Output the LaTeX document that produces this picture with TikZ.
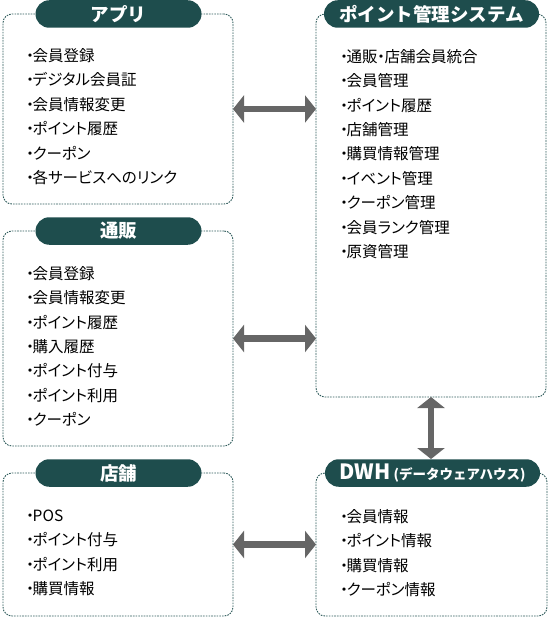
\documentclass[tikz,border=0pt]{standalone}
\usepackage{fontspec}
\newfontfamily\jp{Noto Sans CJK JP}
\newfontfamily\jpp[RawFeature={+palt}]{Noto Sans CJK JP}
\usetikzlibrary{arrows.meta}
\definecolor{pillcol}{HTML}{1E4D4D}
\definecolor{bordercol}{HTML}{2E5B5B}
\definecolor{arrowcol}{HTML}{666666}
\newcommand\bul{\makebox[5pt]{・}}
\newcommand\mdot{\makebox[7pt]{・}}
\tikzset{
  panel/.style={draw=bordercol, line width=0.9pt, dash pattern=on 1.6pt off 1.1pt,
    rounded corners=9pt, inner sep=0pt, outer sep=0pt, anchor=north west, fill=white},
  pill/.style={fill=pillcol, rounded corners=13.75pt, minimum height=27.5pt,
    inner sep=0pt, text=white, font=\jp\bfseries\fontsize{18.5}{18.5}\selectfont},
  item/.style={anchor=west, inner sep=0pt, text height=0.88em, text depth=0.12em,
    font=\jpp\fontsize{15.5}{15.5}\selectfont, text=black},
  biarrow/.style={draw=arrowcol, line width=6.5pt,
    {Triangle[width=27pt,length=11pt]}-{Triangle[width=27pt,length=11pt]}},
}
\begin{document}
\begin{tikzpicture}[x=1pt,y=-1pt]
\useasboundingbox (0,0) rectangle (550,620);
% panels
\node[panel, minimum width=230pt, minimum height=190pt] (app) at (3,14) {};
\node[panel, minimum width=230pt, minimum height=215pt] (tsu) at (3,231) {};
\node[panel, minimum width=230pt, minimum height=143pt] (shop) at (3,473) {};
\node[panel, minimum width=230pt, minimum height=383pt] (pm) at (316,14) {};
\node[panel, minimum width=231pt, minimum height=143pt] (dwh) at (316,473) {};
% title pills
\node[pill, minimum width=166pt] (appt) at (118.5,14) {アプリ};
\node[pill, minimum width=166pt] (tsut) at (118.5,231) {通販};
\node[pill, minimum width=166pt] (shopt) at (118.5,473) {店舗};
\node[pill, minimum width=215pt] (pmt) at (431.5,14) {ポイント管理システム};
\node[pill, minimum width=215pt] (dwht) at (432.5,473)
  {{\fontsize{21}{21}\selectfont DWH}\kern3pt{\fontsize{13.5}{13.5}\selectfont (データウェアハウス)}};
% items
\foreach \t [count=\i] in {会員登録,デジタル会員証,会員情報変更,ポイント履歴,クーポン,各サービスへのリンク}
  \node[item] (app\i) at (27.5,{57.5+(\i-1)*24.5}) {\bul\t};
\foreach \t [count=\i] in {会員登録,会員情報変更,ポイント履歴,購入履歴,ポイント付与,ポイント利用,クーポン}
  \node[item] (tsu\i) at (27.5,{275.5+(\i-1)*24.4}) {\bul\t};
\foreach \t [count=\i] in {POS,ポイント付与,ポイント利用,購買情報}
  \node[item] (shop\i) at (27.5,{518+(\i-1)*24.1}) {\bul\t};
\node[item] (pm1) at (341.5,58.5) {\bul 通販\mdot 店舗会員統合};
\foreach \t [count=\i from 2] in {会員管理,ポイント履歴,店舗管理,購買情報管理,イベント管理,クーポン管理,会員ランク管理,原資管理}
  \node[item] (pm\i) at (341.5,{58.5+(\i-1)*24.4}) {\bul\t};
\foreach \t [count=\i] in {会員情報,ポイント情報,購買情報,クーポン情報}
  \node[item] (dwh\i) at (341.5,{519+(\i-1)*24.1}) {\bul\t};
% connectors
\draw[biarrow] (app.east) -- (app.east -| pm.west);
\draw[biarrow] (tsu.east) -- (tsu.east -| pm.west);
\draw[biarrow] (shop.east) -- (shop.east -| dwh.west);
\draw[biarrow] (pm.south) -- (pm.south |- dwht.north);
\end{tikzpicture}
\end{document}
